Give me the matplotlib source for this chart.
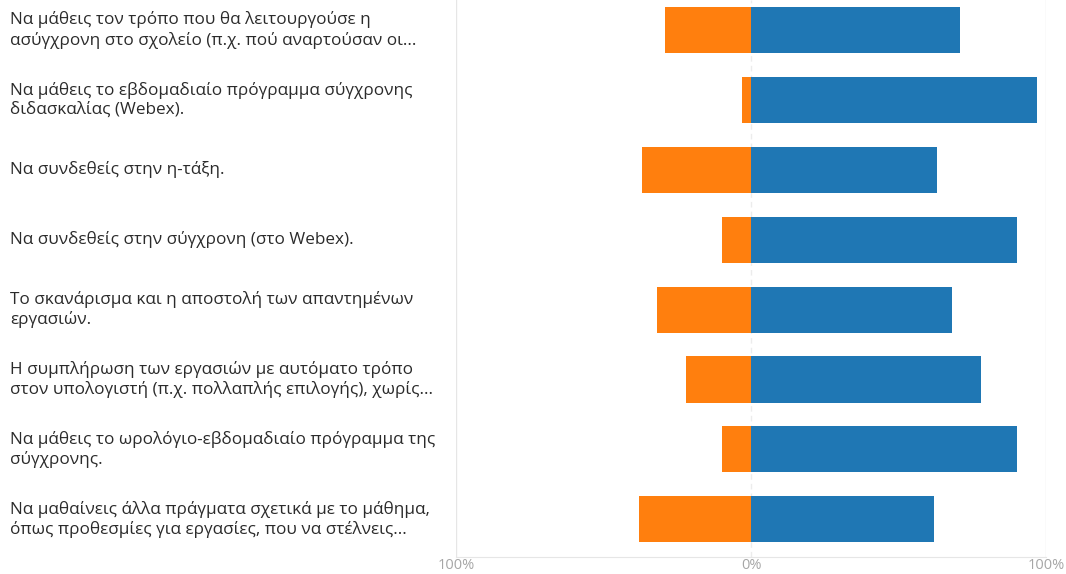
import matplotlib.pyplot as plt
import numpy as np

plt.rcParams['font.family'] = ['Open Sans', 'Noto Sans', 'DejaVu Sans']

labels = [
    'Να μάθεις τον τρόπο που θα λειτουργούσε η\nασύγχρονη στο σχολείο (π.χ. πού αναρτούσαν οι...',
    'Να μάθεις το εβδομαδιαίο πρόγραμμα σύγχρονης\nδιδασκαλίας (Webex).',
    'Να συνδεθείς στην η-τάξη.',
    'Να συνδεθείς στην σύγχρονη (στο Webex).',
    'Το σκανάρισμα και η αποστολή των απαντημένων\nεργασιών.',
    'Η συμπλήρωση των εργασιών με αυτόματο τρόπο\nστον υπολογιστή (π.χ. πολλαπλής επιλογής), χωρίς...',
    'Να μάθεις το ωρολόγιο-εβδομαδιαίο πρόγραμμα της\nσύγχρονης.',
    'Να μαθαίνεις άλλα πράγματα σχετικά με το μάθημα,\nόπως προθεσμίες για εργασίες, που να στέλνεις...',
]
negative = [29, 3, 37, 10, 32, 22, 10, 38]
positive = [71, 97, 63, 90, 68, 78, 90, 62]

fig = plt.figure(figsize=(10.66, 5.74), dpi=100)
ax = fig.add_axes([456 / 1066, 17 / 574, 590 / 1066, 557 / 574])

y = np.arange(len(labels))
ax.barh(y, [-v for v in negative], height=0.66, color='#ff7f0e')
ax.barh(y, positive, height=0.66, color='#1f77b4')

ax.set_xlim(-100, 100)
ax.set_ylim(len(labels) - 0.46, -0.43)

ax.axvline(-100, color='#e6e6e6', lw=1, zorder=0)
ax.axvline(100, color='#e6e6e6', lw=1, zorder=0)
ax.axvline(0, color='#ececec', lw=1, ls=(0, (4, 3)), zorder=0)

for s in ['top', 'right', 'left']:
    ax.spines[s].set_visible(False)
ax.spines['bottom'].set_color('#e6e6e6')

ax.set_yticks([])
ax.set_xticks([-100, 0, 100])
ax.set_xticklabels(['100%', '0%', '100%'])
ax.tick_params(axis='x', length=0, pad=0.5, labelsize=10.5, labelcolor='#a6a6a6')

trans = ax.get_yaxis_transform().__class__(fig.transFigure, ax.transData)
for i, lab in enumerate(labels):
    ax.text(10 / 1066, i, lab, transform=trans,
            ha='left', va='center', fontsize=12.3, color='#2b2b2b', linespacing=1.25)

fig.savefig('out.png', dpi=100, facecolor='white')
